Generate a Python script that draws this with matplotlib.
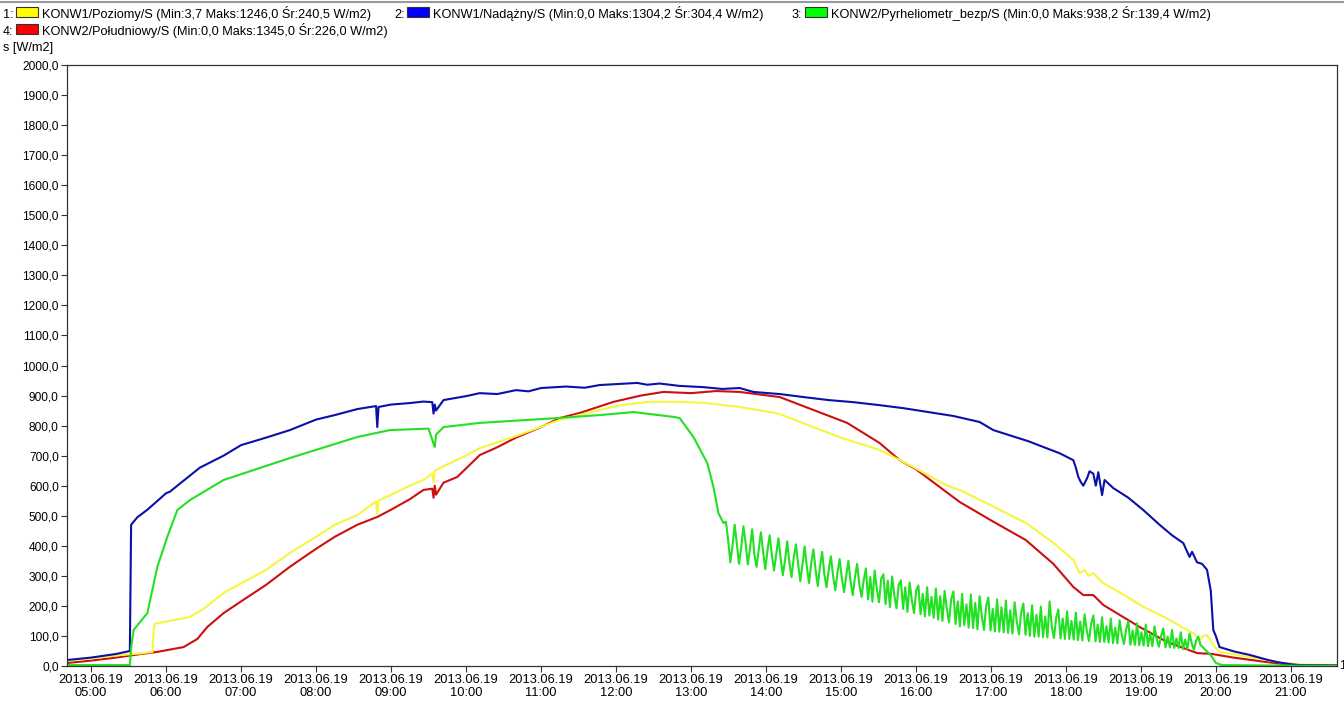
import numpy as np
import matplotlib
matplotlib.use("Agg")
from matplotlib import pyplot as plt
from matplotlib.patches import Rectangle

plt.rcParams['font.family'] = ['Liberation Sans', 'DejaVu Sans']


def hm(s):
    h, m = s.split(':')
    return int(h) + int(m) / 60.0


# 2: KONW1/Nadazny (blue)
blue_t = ["04:41", "05:00", "05:20", "05:31", "05:32", "05:37", "05:45", "06:00", "06:03", "06:15",
          "06:27", "06:46", "07:00", "07:20", "07:39", "08:00", "08:15", "08:33", "08:48", "08:49",
          "08:50", "09:00", "09:15", "09:26", "09:33", "09:34", "09:35", "09:36", "09:42", "10:00",
          "10:11", "10:25", "10:40", "10:50", "11:00", "11:20", "11:35", "11:47", "12:00", "12:17",
          "12:25", "12:35", "12:51", "13:10", "13:25", "13:39", "13:50", "14:11", "14:30", "14:50",
          "15:10", "15:31", "15:50", "16:10", "16:30", "16:51", "17:02", "17:30", "17:55", "18:06",
          "18:08", "18:10", "18:12", "18:14", "18:17", "18:19", "18:22", "18:24", "18:26", "18:29",
          "18:31", "18:38", "18:50", "19:02", "19:15", "19:25", "19:34", "19:39", "19:41", "19:45",
          "19:49", "19:53", "19:56", "19:58", "20:00", "20:03", "20:15", "20:27", "20:40", "20:49",
          "21:00", "21:07", "21:37"]
blue_v = [20, 28, 40, 50, 470, 495, 520, 575, 580, 620,
          660, 700, 735, 760, 785, 820, 835, 855, 865, 795,
          862, 870, 875, 880, 878, 840, 870, 850, 885, 898,
          908, 905, 918, 914, 925, 930, 926, 935, 938, 942,
          936, 940, 932, 928, 922, 925, 912, 905, 895, 885,
          878, 868, 858, 845, 832, 812, 785, 748, 708, 685,
          660, 629, 612, 600, 625, 648, 640, 600, 645, 569,
          619, 592, 560, 519, 470, 435, 409, 363, 380, 345,
          340, 320, 250, 120, 100, 63, 48, 37, 22, 13,
          6, 3, 2]

# 1: KONW1/Poziomy (yellow)
yel_t = ["04:41", "05:00", "05:20", "05:40", "05:49", "05:50", "05:51", "06:00", "06:19", "06:30",
         "06:46", "07:00", "07:20", "07:39", "08:00", "08:15", "08:33", "08:48", "08:49", "08:50",
         "09:00", "09:15", "09:26", "09:33", "09:34", "09:35", "09:42", "10:00", "10:11", "10:40",
         "11:15", "11:47", "12:00", "12:25", "12:51", "13:10", "13:39", "14:10", "14:38", "15:00",
         "15:31", "15:58", "16:25", "16:35", "17:00", "17:28", "17:50", "18:06", "18:11", "18:15",
         "18:18", "18:22", "18:30", "18:45", "19:02", "19:20", "19:37", "19:42", "19:47", "19:50",
         "19:53", "19:58", "20:03", "20:27", "20:54", "21:10", "21:37"]
yel_v = [18, 25, 35, 42, 47, 120, 140, 148, 163, 190,
         243, 275, 320, 376, 430, 470, 502, 548, 505, 550,
         570, 600, 619, 640, 612, 650, 665, 700, 725, 765,
         819, 852, 865, 879, 879, 876, 862, 840, 795, 760,
         719, 662, 600, 586, 535, 476, 410, 353, 309, 320,
         300, 309, 276, 240, 197, 160, 120, 110, 87, 100,
         103, 70, 47, 30, 10, 5, 3]

# 4: KONW2/Poludniowy (red)
red_t = ["04:41", "05:00", "05:20", "05:40", "05:53", "06:14", "06:25", "06:33", "06:46", "07:00",
         "07:20", "07:39", "08:00", "08:15", "08:33", "08:49", "09:00", "09:15", "09:26", "09:33",
         "09:34", "09:35", "09:36", "09:42", "09:53", "10:11", "10:25", "10:40", "11:00", "11:15",
         "11:31", "11:58", "12:20", "12:38", "13:00", "13:20", "13:39", "14:11", "14:38", "15:05",
         "15:31", "15:47", "16:00", "16:35", "17:00", "17:28", "17:50", "18:06", "18:14", "18:22",
         "18:30", "18:59", "19:21", "19:45", "19:57", "20:14", "20:41", "21:07", "21:37"]
red_v = [10, 18, 28, 40, 47, 63, 90, 130, 176, 215,
         270, 330, 390, 430, 470, 496, 520, 555, 586, 590,
         560, 600, 570, 610, 629, 702, 728, 760, 795, 825,
         842, 879, 900, 912, 908, 915, 912, 895, 852, 809,
         742, 685, 655, 546, 485, 419, 340, 263, 236, 236,
         203, 130, 80, 43, 40, 28, 13, 0, 0]

# 3: KONW2/Pyrheliometr_bezp (green), smooth part
grn_t = ["04:41", "05:31", "05:32", "05:34", "05:45", "05:53", "06:01", "06:09", "06:19", "06:46",
         "07:39", "08:33", "08:59", "09:30", "09:34", "09:35", "09:36", "09:42", "10:11", "11:13",
         "11:47", "12:14", "12:46", "12:51", "13:02", "13:13", "13:18", "13:22", "13:26"]
grn_v = [3, 3, 60, 120, 176, 330, 430, 519, 552, 619,
         692, 762, 785, 790, 740, 729, 770, 795, 809, 825,
         835, 845, 829, 825, 762, 676, 596, 509, 476]
# oscillating part, logged every 1.75 min from 13:28
grn_osc_start = "13:28"
grn_osc_step_min = 1.75
grn_osc_v = [480, 420, 345, 400, 470, 405, 340, 395,
             465, 410, 338, 390, 455, 372, 330, 388,
             445, 380, 322, 385, 435, 370, 318, 372,
             425, 360, 302, 350, 415, 345, 296, 360,
             405, 340, 282, 338, 398, 330, 276, 342,
             388, 320, 266, 330, 380, 305, 262, 320,
             365, 300, 252, 310, 356, 292, 246, 300,
             350, 280, 236, 295, 340, 270, 230, 285,
             325, 222, 296, 214, 318, 255, 212, 290,
             305, 206, 284, 196, 298, 236, 192, 270,
             285, 190, 262, 180, 278, 220, 176, 250,
             268, 172, 240, 165, 262, 168, 230, 160,
             258, 155, 232, 150, 250, 190, 145, 222,
             248, 140, 215, 132, 240, 136, 205, 128,
             238, 126, 210, 122, 232, 165, 120, 200,
             228, 118, 190, 115, 222, 114, 196, 112,
             218, 110, 185, 108, 212, 148, 105, 178,
             208, 104, 176, 100, 202, 98, 170, 98,
             198, 96, 165, 95, 215, 132, 93, 160,
             188, 92, 158, 90, 182, 90, 150, 88,
             178, 86, 148, 85, 172, 118, 83, 140,
             168, 82, 138, 80, 162, 80, 132, 78,
             158, 76, 128, 75, 152, 104, 73, 122,
             148, 71, 118, 70, 142, 69, 112, 68,
             138, 66, 108, 66, 132, 90, 64, 100,
             125, 62, 98, 62, 120, 60, 92, 60,
             112, 56, 88, 56, 108, 75, 54, 84,
             98, 70]
grn_tail_t = ["19:55", "19:57", "20:00", "20:05", "21:37"]
grn_tail_v = [40, 30, 10, 3, 0]

x_ticks = ["05:00", "06:00", "07:00", "08:00", "09:00", "10:00", "11:00", "12:00", "13:00",
           "14:00", "15:00", "16:00", "17:00", "18:00", "19:00", "20:00", "21:00"]
date_lbl = "2013.06.19"

legend_items = [
    ("1:", "KONW1/Poziomy/S (Min:3,7 Maks:1246,0 Śr:240,5 W/m2)", "#ffff00"),
    ("2:", "KONW1/Nadążny/S (Min:0,0 Maks:1304,2 Śr:304,4 W/m2)", "#0000ff"),
    ("3:", "KONW2/Pyrheliometr_bezp/S (Min:0,0 Maks:938,2 Śr:139,4 W/m2)", "#00ff00"),
    ("4:", "KONW2/Południowy/S (Min:0,0 Maks:1345,0 Śr:226,0 W/m2)", "#ff0000"),
]

# build the green series
osc_t0 = hm(grn_osc_start)
osc_t = osc_t0 + np.arange(len(grn_osc_v)) * grn_osc_step_min / 60.0
g_t = np.concatenate([[hm(s) for s in grn_t], osc_t, [hm(s) for s in grn_tail_t]])
g_v = np.concatenate([grn_v, grn_osc_v, grn_tail_v])

fig = plt.figure(figsize=(13.44, 7.04), dpi=100)
ax = fig.add_axes([67 / 1344, 38 / 704, 1270 / 1344, 601 / 704])

lw = 1.5
ax.plot([hm(s) for s in red_t], red_v, color="#cc1010", lw=lw)
ax.plot([hm(s) for s in yel_t], yel_v, color="#f6f640", lw=lw)
ax.plot([hm(s) for s in blue_t], blue_v, color="#0a10a8", lw=lw)
ax.plot(g_t, g_v, color="#22e022", lw=lw)

ax.set_xlim(hm("04:41") - 0.005, hm("21:37"))
ax.set_ylim(0, 2000)
ax.set_yticks(np.arange(0, 2001, 100))
ax.set_yticklabels([f"{v:.1f}".replace('.', ',') for v in np.arange(0, 2001, 100)])
ax.set_xticks([hm(s) for s in x_ticks])
ax.set_xticklabels([f"{date_lbl}\n{s}" for s in x_ticks], linespacing=1.1)
ax.tick_params(axis='both', length=4, width=0.8, color="#333333", direction='out')
ax.tick_params(axis='y', labelsize=8.6, pad=2)
ax.tick_params(axis='x', labelsize=9.3, pad=2)
for sp in ax.spines.values():
    sp.set_color("#333333")
    sp.set_linewidth(0.9)

ax.text(1.002, 0.0, "1", transform=ax.transAxes, fontsize=9, va='center', ha='left')

# header legend
rows = [(0, 3, 18), (1, 394, 18), (2, 792, 18), (3, 3, 35)]
for (i, px, py) in rows:
    num, lab, col = legend_items[i]
    fig.text(px / 1344, 1 - py / 704, num, fontsize=9.2, va='baseline', ha='left')
    fig.patches.append(Rectangle(((px + 13) / 1344, 1 - (py - 1) / 704), 22 / 1344, 10 / 704,
                                 transform=fig.transFigure, facecolor=col,
                                 edgecolor="#333333", lw=0.8))
    fig.text((px + 39) / 1344, 1 - py / 704, lab, fontsize=9.2, va='baseline', ha='left')
fig.text(3 / 1344, 1 - 51 / 704, "s [W/m2]", fontsize=9.2, va='baseline', ha='left')
fig.add_artist(plt.Line2D([0, 1], [1 - 1.5 / 704, 1 - 1.5 / 704], transform=fig.transFigure,
                          color="#999999", lw=1.5))

fig.savefig("out.png", dpi=100)
